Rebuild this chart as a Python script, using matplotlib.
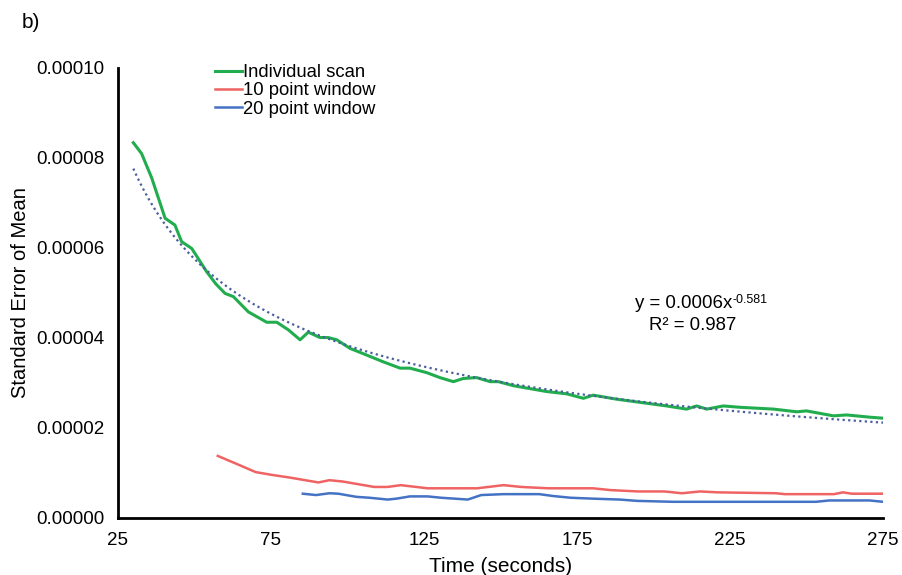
import numpy as np
import matplotlib
matplotlib.use("Agg")
import matplotlib.pyplot as plt

plt.rcParams['font.family'] = ['Liberation Sans', 'DejaVu Sans']

# Individual scan (green)
scan_t = [30.0, 32.7, 36.0, 40.4, 43.6, 45.8, 49.1, 54.0, 57.0, 60.0, 62.7, 67.6,
          73.6, 76.9, 80.7, 84.5, 87.2, 91.0, 93.7, 96.5, 100.8, 106.3, 111.7,
          117.2, 120.4, 125.9, 130.2, 134.6, 137.8, 142.2, 146.6, 149.3, 154.2,
          165.1, 171.6, 177.1, 180.3, 188.0, 197.8, 204.3, 210.8, 214.1, 217.4,
          222.8, 228.3, 239.2, 246.8, 250.0, 258.8, 263.1, 270.8, 274.6]
scan_sem = [8.34, 8.10, 7.56, 6.66, 6.51, 6.14, 5.99, 5.47, 5.20, 4.99, 4.92, 4.58,
            4.35, 4.35, 4.18, 3.96, 4.13, 4.01, 4.01, 3.96, 3.77, 3.62, 3.47,
            3.33, 3.33, 3.23, 3.12, 3.03, 3.10, 3.12, 3.03, 3.03, 2.94,
            2.81, 2.76, 2.66, 2.73, 2.64, 2.55, 2.49, 2.42, 2.49, 2.42,
            2.49, 2.46, 2.42, 2.36, 2.38, 2.27, 2.29, 2.24, 2.22]

# 10 point window (red)
w10_t = [57.6, 63.5, 70.0, 75.1, 81.0, 90.5, 94.1, 98.5, 108.7, 113.1, 117.4,
         126.2, 142.3, 151.0, 156.8, 165.6, 180.2, 186.0, 194.8, 203.5, 209.3,
         215.2, 221.0, 240.0, 242.9, 259.0, 261.9, 264.8, 275.0]
w10_sem = [1.38, 1.21, 1.02, 0.96, 0.90, 0.79, 0.84, 0.81, 0.69, 0.69, 0.73,
           0.66, 0.66, 0.73, 0.69, 0.66, 0.66, 0.62, 0.59, 0.59, 0.55,
           0.59, 0.57, 0.55, 0.53, 0.53, 0.57, 0.54, 0.54]

# 20 point window (blue)
w20_t = [85.4, 89.7, 94.1, 97.0, 102.9, 107.2, 113.1, 116.0, 120.4, 126.2, 130.6,
         135.0, 139.3, 143.7, 151.0, 162.7, 167.0, 172.9, 180.2, 188.9, 194.8,
         206.4, 226.8, 253.1, 257.5, 270.6, 275.0]
w20_sem = [0.54, 0.51, 0.55, 0.54, 0.47, 0.45, 0.41, 0.43, 0.48, 0.48, 0.45,
           0.43, 0.41, 0.51, 0.53, 0.53, 0.49, 0.45, 0.43, 0.41, 0.38,
           0.36, 0.36, 0.36, 0.39, 0.39, 0.36]

xticks = [25, 75, 125, 175, 225, 275]
yticks = [0, 0.00002, 0.00004, 0.00006, 0.00008, 0.0001]
ytick_labels = ['0.00000', '0.00002', '0.00004', '0.00006', '0.00008', '0.00010']

scale = 1e-5
scan_y = np.array(scan_sem) * scale
w10_y = np.array(w10_sem) * scale
w20_y = np.array(w20_sem) * scale

W, H = 903, 575
fig = plt.figure(figsize=(W / 100, H / 100), dpi=100)
ax = fig.add_axes([118 / W, 1 - 518 / H, 765 / W, 450 / H])

ax.plot(scan_t, scan_y, color='#21ad4e', lw=2.2, label='Individual scan')
ax.plot(w10_t, w10_y, color='#ef6363', lw=1.8, label='10 point window')
ax.plot(w20_t, w20_y, color='#4472c4', lw=1.8, label='20 point window')

# power-law trendline fitted to the individual scan
b, log_a = np.polyfit(np.log(scan_t), np.log(scan_y), 1)
tt = np.linspace(scan_t[0], 275, 200)
ax.plot(tt, np.exp(log_a) * tt ** b, color='#4a5f9e', lw=1.6, ls=(0, (1, 1.5)))

ax.set_xlim(25, 275)
ax.set_ylim(0, 0.0001)
ax.set_xticks(xticks)
ax.set_yticks(yticks)
ax.set_yticklabels(ytick_labels)
ax.tick_params(length=0, labelsize=13.5, pad=10)
for s in ['top', 'right']:
    ax.spines[s].set_visible(False)
for s in ['left', 'bottom']:
    ax.spines[s].set_linewidth(2)

ax.set_xlabel('Time (seconds)', fontsize=15, labelpad=6)
ax.set_ylabel('Standard Error of Mean', fontsize=14.5, labelpad=4)

ax.legend(loc='upper left', bbox_to_anchor=(215 / W, 1 - 64 / H),
          bbox_transform=fig.transFigure, frameon=False,
          fontsize=13.3, handlelength=1.45, handletextpad=0.05, labelspacing=0.07,
          borderpad=0, borderaxespad=0)

# trendline equation with a small superscript exponent
eq = fig.text(635 / W, 1 - 304 / H, 'y = 0.0006x', ha='left', va='center', fontsize=13.4)
ax.annotate('-0.581', xy=(1, 0.75), xycoords=eq, ha='left', va='center', fontsize=9)
fig.text(693 / W, 1 - 325 / H, 'R² = 0.987', ha='center', va='center', fontsize=13.4)
fig.text(22 / W, 1 - 22 / H, 'b)', ha='left', va='center', fontsize=15)

fig.savefig('out.png', dpi=100)
